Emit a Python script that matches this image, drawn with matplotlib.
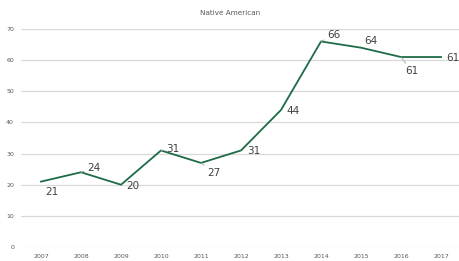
import matplotlib
matplotlib.use("Agg")
import matplotlib.pyplot as plt

years = ["2007", "2008", "2009", "2010", "2011", "2012", "2013", "2014", "2015", "2016", "2017"]
values = [21, 24, 20, 31, 27, 31, 44, 66, 64, 61, 61]
title = "Native American"
yticks = [0, 10, 20, 30, 40, 50, 60, 70]

# label offsets in pixels (dx, dy) and whether a leader line is drawn
offsets = [(4, -10), (6, 4), (5, -1), (5, 1), (6, -10), (6, -1), (5, -1), (6, 6), (3, 7), (4, -14), (5, -1)]
leaders = [False, True, False, True, True, False, False, True, False, True, False]

fig = plt.figure(figsize=(4.6, 2.61), dpi=100)
ax = fig.add_axes([21/460, 14/261, 440/460, 218/261])
x = list(range(len(years)))
ax.plot(x, values, color="#1E6B47", lw=1.3, zorder=3)
ax.set_xlim(-0.5, len(years) - 0.5)
ax.set_ylim(0, 70)
ax.set_yticks(yticks)
ax.set_xticks(x)
ax.set_xticklabels(years)
ax.tick_params(axis="both", length=0, labelsize=4.5, colors="#595959")
ax.tick_params(axis="x", pad=5)
ax.tick_params(axis="y", pad=5)
for s in ax.spines.values():
    s.set_visible(False)
ax.yaxis.grid(True, color="#D9D9D9", lw=0.9)
ax.set_axisbelow(True)
fig.text(0.5, 1 - 13/261, title, fontsize=5.2, color="#595959", ha="center", va="center")

for xi, v, (dx, dy), ld in zip(x, values, offsets, leaders):
    kw = {}
    if ld:
        kw["arrowprops"] = dict(arrowstyle="-", color="#A6A6A6", lw=0.6,
                                shrinkA=0, shrinkB=0)
    ax.annotate(str(v), (xi, v), xytext=(dx, dy), textcoords="offset pixels",
                fontsize=7.5, color="#404040", ha="left", va="center", **kw)

fig.savefig("out.png", dpi=100)
